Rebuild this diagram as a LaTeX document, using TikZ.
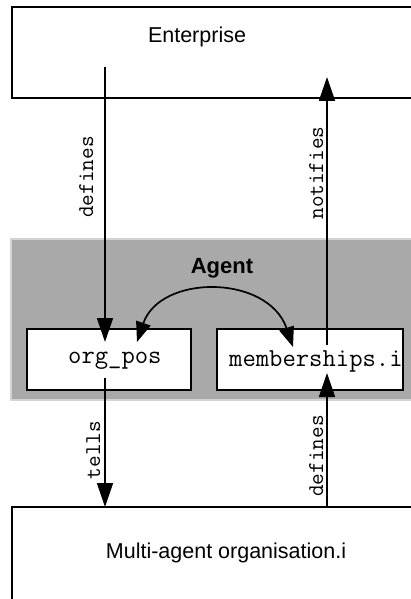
\documentclass[tikz,border=0pt]{standalone}
\usepackage{fontspec}
\setmainfont{Liberation Sans}
\usetikzlibrary{arrows.meta}
\definecolor{agentgray}{HTML}{A9A9A9}
\definecolor{agentedge}{HTML}{D4D4D4}
\begin{document}
\begin{tikzpicture}[x=1pt,y=-1pt,
  box/.style={draw=black,line width=1.8pt,fill=white,rectangle,inner sep=0pt},
  arr/.style={line width=1.7pt,-{Triangle[length=24pt,width=16pt]}},
  carr/.style={line width=1.7pt,{Triangle[length=20pt,width=15pt]}-{Triangle[length=20pt,width=15pt]}},
  maintext/.style={font=\fontsize{21.5}{24}\selectfont,inner sep=0pt},
  monotext/.style={font=\ttfamily\fontsize{25.9}{28}\selectfont,inner sep=0pt,anchor=west},
  lbl/.style={font=\ttfamily\fontsize{22.6}{26}\selectfont,inner sep=0pt,rotate=90,anchor=base}
]
\useasboundingbox (0,0) rectangle (411,599);
\clip (0,0) rectangle (411,599);
% boxes
\node[box,minimum width=409pt,minimum height=91pt] (ent) at (216.5,52.5) {};
\node[maintext] (enttext) at (197,37) {Enterprise};
\node[draw=agentedge,fill=agentgray,line width=1.2pt,minimum width=410pt,minimum height=161pt,inner sep=0pt] (agent) at (216,319.5) {};
\node[font=\bfseries\fontsize{22}{26}\selectfont,inner sep=0pt] (agenttext) at (222,268) {Agent};
\node[box,minimum width=164pt,minimum height=61pt] (orgpos) at (109,359.5) {};
\node[monotext] (orgtext) at (68,361) {org\_pos};
\node[box,minimum width=186pt,minimum height=61pt] (memb) at (310,359.5) {};
\node[monotext] (membtext) at (229,361) {memberships.i};
\node[box,minimum width=409pt,minimum height=100pt] (mao) at (216.5,557) {};
\node[maintext] (maotext) at (226,553) {Multi-agent organisation.i};
% connector end points
\coordinate (e1) at (105,67);
\coordinate (o1) at (105,342);
\coordinate (m1) at (327,345);
\coordinate (e2) at (327,77);
\coordinate (o2) at (105,378);
\coordinate (a1) at (105,507);
\coordinate (a2) at (327,507);
\coordinate (m2) at (327,373);
\coordinate (c1) at (137,342);
\coordinate (c2) at (293,347);
% connectors
\draw[arr] (e1) -- (o1);
\draw[arr] (m1) -- (e2);
\draw[arr] (o2) -- (a1);
\draw[arr] (a2) -- (m2);
\draw[carr] (c1) .. controls (160,274) and (268,274) .. (c2);
% labels
\node[lbl] (ldef1) at (93,177) {defines};
\node[lbl] (lnot) at (323,173) {notifies};
\node[lbl] (ltell) at (100,450) {tells};
\node[lbl] (ldef2) at (323,456) {defines};
\end{tikzpicture}
\end{document}
